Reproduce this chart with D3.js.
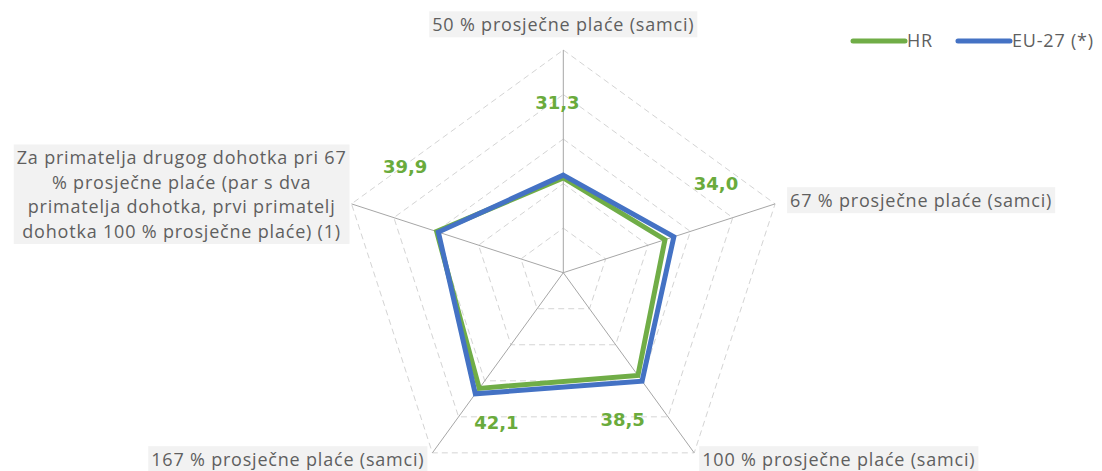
<!DOCTYPE html>
<html>
<head>
<meta charset="utf-8">
<script src="https://cdn.jsdelivr.net/npm/d3@7"></script>
<style>
  html, body { margin: 0; padding: 0; background: #ffffff; }
  svg { display: block; }
  .axis-label { font-family: "Open Sans", sans-serif; font-size: 18px; letter-spacing: 0.8px; fill: #5f5f5f; }
  .val-label { font-family: "DejaVu Sans", sans-serif; font-size: 18px; font-weight: bold; fill: #6aab3c; }
  .legend-text { font-family: "Open Sans", sans-serif; font-size: 18px; letter-spacing: 0.8px; fill: #5f5f5f; }
</style>
</head>
<body>
<svg id="chart" width="1102" height="471"></svg>
<script>
// categories (clockwise from top)
var categories = [
	["50 % prosječne plaće (samci)"],
	["67 % prosječne plaće (samci)"],
	["100 % prosječne plaće (samci)"],
	["167 % prosječne plaće (samci)"],
	["Za primatelja drugog dohotka pri 67", "% prosječne plaće (par s dva", "primatelja dohotka, prvi primatelj", "dohotka 100 % prosječne plaće) (1)"]
];
var seriesNames = ["HR", "EU-27 (*)"];
var hrValues = [31.3, 34.0, 38.5, 42.1, 39.9];
var euValues = [31.9, 36.1, 40.1, 43.6, 39.5];
var hrLabels = ["31,3", "34,0", "38,5", "42,1", "39,9"];
var gridLevels = [20, 30, 40, 50, 60];

var colors = { "HR": "#70ad47", "EU-27 (*)": "#4472c4" };

var svg = d3.select("#chart");
var cx = 563.3, cy = 272.7, R = 222.7;

var rScale = d3.scaleLinear().domain([10, 60]).range([0, R]);
var angle = function(i) { return (-90 + i * 72) * Math.PI / 180; };
var pt = function(i, r) { return [cx + r * Math.cos(angle(i)), cy + r * Math.sin(angle(i))]; };

// grid pentagons
var gridG = svg.append("g");
gridLevels.forEach(function(lv)
{
	var pts = categories.map(function(c, i) { return pt(i, rScale(lv)); });
	gridG.append("path")
		.attr("d", d3.line()(pts) + "Z")
		.attr("fill", "none")
		.attr("stroke", "#d4d4d4")
		.attr("stroke-width", 1)
		.attr("stroke-dasharray", "6,4");
});

// spokes
categories.forEach(function(c, i)
{
	var e = pt(i, rScale(60));
	gridG.append("line")
		.attr("x1", cx).attr("y1", cy)
		.attr("x2", e[0]).attr("y2", e[1])
		.attr("stroke", "#a6a6a6")
		.attr("stroke-width", 1);
});

// series lines
var lineGen = d3.lineRadial()
	.angle(function(d, i) { return i * 72 * Math.PI / 180; })
	.radius(function(d) { return rScale(d); })
	.curve(d3.curveLinearClosed);

[[seriesNames[0], hrValues], [seriesNames[1], euValues]].forEach(function(s)
{
	svg.append("path")
		.attr("transform", "translate(" + cx + "," + cy + ")")
		.attr("d", lineGen(s[1]))
		.attr("fill", "none")
		.attr("stroke", colors[s[0]])
		.attr("stroke-width", 5)
		.attr("stroke-linejoin", "miter");
});

// data labels (HR), nudged like the original
var labelNudge = [[-2, 170], [-12.4, 177], [14, 158.5], [-12, 164.5], [15.9, 190.6]];
hrLabels.forEach(function(t, i)
{
	var a = (-90 + i * 72 + labelNudge[i][0]) * Math.PI / 180;
	var r = labelNudge[i][1];
	svg.append("text")
		.attr("class", "val-label")
		.attr("x", cx + r * Math.cos(a))
		.attr("y", cy + r * Math.sin(a))
		.attr("text-anchor", "middle")
		.attr("dominant-baseline", "central")
		.text(t);
});

// axis labels with grey boxes
var labelPlace = [
	{ dx: 0, dy: -25, anchor: "middle" },
	{ dx: 15, dy: -3, anchor: "start" },
	{ dx: 8, dy: 7, anchor: "start" },
	{ dx: -8, dy: 7, anchor: "end" },
	{ dx: -5, dy: -9, anchor: "block" }
];
var lineH = 24.5;

categories.forEach(function(lines, i)
{
	var e = pt(i, rScale(60));
	var p = labelPlace[i];
	var g = svg.append("g");
	var txt = g.append("text")
		.attr("class", "axis-label")
		.attr("text-anchor", p.anchor == "block" ? "middle" : p.anchor);

	lines.forEach(function(l, k)
	{
		txt.append("tspan")
			.attr("x", 0)
			.attr("y", (k - (lines.length - 1) / 2) * lineH)
			.attr("dy", "0.35em")
			.text(l);
	});

	var bb = txt.node().getBBox();
	g.insert("rect", "text")
		.attr("x", bb.x - 3).attr("y", bb.y - 1)
		.attr("width", bb.width + 6).attr("height", bb.height + 2)
		.attr("fill", "#f2f2f2");

	var tx = e[0] + p.dx, ty = e[1] + p.dy;
	if (p.anchor == "block")
		tx = tx - (bb.x + bb.width);
	g.attr("transform", "translate(" + tx + "," + ty + ")");
});

// legend
var legend = svg.append("g").attr("transform", "translate(853,41)");
var lx = 0;
seriesNames.forEach(function(n)
{
	legend.append("line")
		.attr("x1", lx).attr("x2", lx + 52)
		.attr("y1", 0).attr("y2", 0)
		.attr("stroke", colors[n])
		.attr("stroke-width", 5)
		.attr("stroke-linecap", "round");
	var t = legend.append("text")
		.attr("class", "legend-text")
		.attr("x", lx + 54)
		.attr("y", 0)
		.attr("dy", "0.35em")
		.text(n);
	lx += 54 + t.node().getComputedTextLength() + 25;
});
</script>
</body>
</html>
